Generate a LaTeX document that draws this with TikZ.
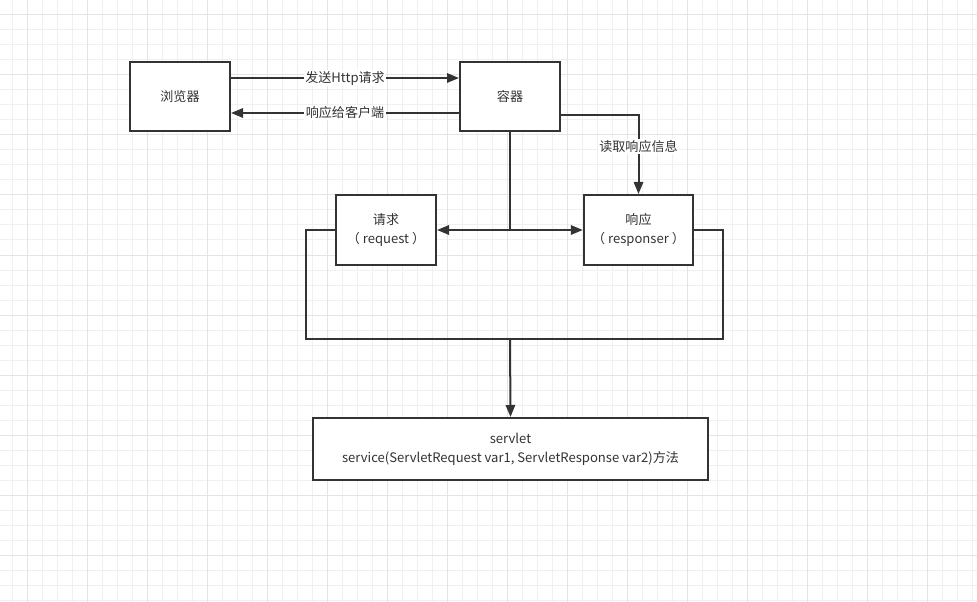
\documentclass[tikz,border=0pt]{standalone}
\usepackage{fontspec}
\setmainfont{Noto Sans CJK SC}
\usetikzlibrary{arrows.meta}
\definecolor{ln}{HTML}{333333}
\definecolor{gminor}{HTML}{F0F0F0}
\definecolor{gmajor}{HTML}{E4E4E4}
\tikzset{
  box/.style={draw=ln, line width=1.5pt, fill=white, text=ln, align=center, inner sep=0pt},
  conn/.style={draw=ln, line width=1.5pt},
  arr/.style={conn, -{Triangle[length=9pt,width=7pt]}},
  lbl/.style={fill=white, text=ln, inner sep=1pt},
}
\begin{document}
\begin{tikzpicture}[x=0.75pt,y=-0.75pt,font=\fontsize{9.8}{14}\selectfont]
\useasboundingbox (0,0) rectangle (977,602);
\fill[white] (0,0) rectangle (977,602);
% grid
\foreach \i in {0,...,65} \draw[gminor, line width=0.75pt] (12.3+15*\i,0) -- (12.3+15*\i,602);
\foreach \i in {0,...,41} \draw[gminor, line width=0.75pt] (0,15*\i) -- (977,15*\i);
\foreach \i in {0,...,16} \draw[gmajor, line width=0.75pt] (27.3+60*\i,0) -- (27.3+60*\i,602);
\foreach \i in {0,...,10} \draw[gmajor, line width=0.75pt] (0,15+60*\i) -- (977,15+60*\i);
% nodes
\node[box, minimum width=75pt, minimum height=52pt] (br) at (180,96.5) {浏览器};
\node[box, minimum width=75pt, minimum height=52pt] (ct) at (510,96.5) {容器};
\node[box, minimum width=75pt, minimum height=52.5pt] (rq) at (386,230) {请求\\（ request ）};
\node[box, minimum width=82pt, minimum height=52.5pt] (rs) at (638.5,230) {响应\\（ responser ）};
\node[box, minimum width=296.5pt, minimum height=46.5pt] (sv) at (510.5,449) {servlet\\service(ServletRequest var1, ServletResponse var2)方法};
% connectors
\draw[arr] (br.east |- 0,78) -- node[lbl, pos=0.5] {发送Http请求} (ct.west |- 0,78);
\draw[arr] (ct.west |- 0,113) -- node[lbl, pos=0.5] {响应给客户端} (br.east |- 0,113);
\coordinate (j) at (510,230);
\draw[conn] (ct.south) -- (j);
\draw[arr] (j) -- (rq.east);
\draw[arr] (j) -- (rs.west);
\coordinate (rc) at (638.5,115);
\draw[arr] (ct.east |- rc) -- (rc) -- node[lbl, pos=0.4] {读取响应信息} (rs.north);
\coordinate (m) at (510,339);
\draw[conn] (rq.west) -- (306,230) -- (306,339) -- (723,339) -- (723,230) -- (rs.east);
\draw[arr] (m) -- (sv.north);
\end{tikzpicture}
\end{document}
